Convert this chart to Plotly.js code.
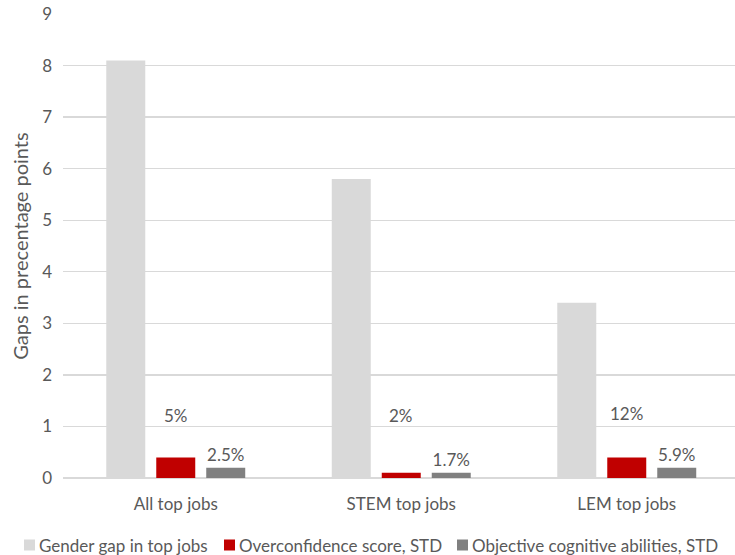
<!DOCTYPE html>
<html>
<head>
<meta charset="utf-8">
<script src="https://cdn.plot.ly/plotly-3.0.1.min.js"></script>
<style>html,body{margin:0;padding:0;background:#fff;}#chart{width:735px;height:555px;}</style>
</head>
<body>
<div id="chart"></div>
<script>
const categories = ['All top jobs', 'STEM top jobs', 'LEM top jobs'];
const seriesNames = ['Gender gap in top jobs', 'Overconfidence score, STD', 'Objective cognitive abilities, STD'];
const seriesColors = ['#d9d9d9', '#c00000', '#808080'];
const genderGap = [8.1, 5.8, 3.4];
const overconfidence = [0.4, 0.1, 0.4];
const cognitive = [0.2, 0.1, 0.2];
const overconfidenceLabels = ['5%', '2%', '12%'];
const cognitiveLabels = ['2.5%', '1.7%', '5.9%'];
const overconfidenceLabelY = [1.22, 1.22, 1.26];

const font = 'Lato, "Open Sans", sans-serif';
const textColor = '#595959';

const W = 735, H = 555;
const M = {l: 63, r: 0, t: 14, b: 77};
const plotW = W - M.l - M.r, plotH = H - M.t - M.b;
const px2x = px => (px - M.l) / plotW;
const px2y = py => (H - M.b - py) / plotH;

const traces = [
  {type: 'bar', name: seriesNames[0], x: categories, y: genderGap,
   marker: {color: seriesColors[0]}, hoverinfo: 'none'},
  {type: 'bar', name: seriesNames[1], x: categories, y: overconfidence,
   marker: {color: seriesColors[1]}, hoverinfo: 'none'},
  {type: 'bar', name: seriesNames[2], x: categories, y: cognitive,
   marker: {color: seriesColors[2]}, hoverinfo: 'none',
   text: cognitiveLabels, textposition: 'outside', cliponaxis: false,
   textfont: {family: font, size: 17, color: textColor}}
];

// percentage notes above the overconfidence bars
const annotations = categories.map((c, i) => ({
  x: c, y: overconfidenceLabelY[i], xref: 'x', yref: 'y',
  text: overconfidenceLabels[i], showarrow: false, yanchor: 'middle',
  font: {family: font, size: 17, color: textColor}
}));

// legend row along the bottom: small square swatch followed by the series name
const legendSwatchX = [24, 224, 457];
const legendY = 545;
const shapes = [];
seriesNames.forEach((name, i) => {
  shapes.push({type: 'rect', xref: 'paper', yref: 'paper',
    x0: px2x(legendSwatchX[i]), x1: px2x(legendSwatchX[i] + 11),
    y0: px2y(legendY + 5.5), y1: px2y(legendY - 5.5),
    fillcolor: seriesColors[i], line: {width: 0}});
  annotations.push({xref: 'paper', yref: 'paper',
    x: px2x(legendSwatchX[i] + 14), y: px2y(legendY), xanchor: 'left', yanchor: 'middle',
    text: name, showarrow: false, borderpad: 0,
    font: {family: font, size: 17, color: textColor}});
});

const layout = {
  width: W, height: H,
  margin: M,
  paper_bgcolor: '#fff', plot_bgcolor: '#fff',
  barmode: 'group', bargap: 0.335, bargroupgap: 0.22,
  font: {family: font, size: 17, color: textColor},
  showlegend: false,
  xaxis: {type: 'category', range: [-0.5, 2.48], showline: false, ticks: '',
          ticklabelstandoff: 14, tickfont: {size: 17, color: textColor},
          showgrid: false, zeroline: false, automargin: false},
  yaxis: {range: [0, 9], dtick: 1, showgrid: true, gridcolor: '#d9d9d9', gridwidth: 1.3,
          zeroline: true, zerolinecolor: '#d9d9d9', zerolinewidth: 1.3,
          showline: false, ticks: '', ticklabelstandoff: 10, automargin: false,
          tickfont: {size: 17, color: textColor},
          title: {text: 'Gaps in precentage points', font: {size: 20, color: textColor}, standoff: 8}},
  annotations: annotations,
  shapes: shapes
};

Plotly.newPlot('chart', traces, layout, {displayModeBar: false, staticPlot: true});
</script>
</body>
</html>
